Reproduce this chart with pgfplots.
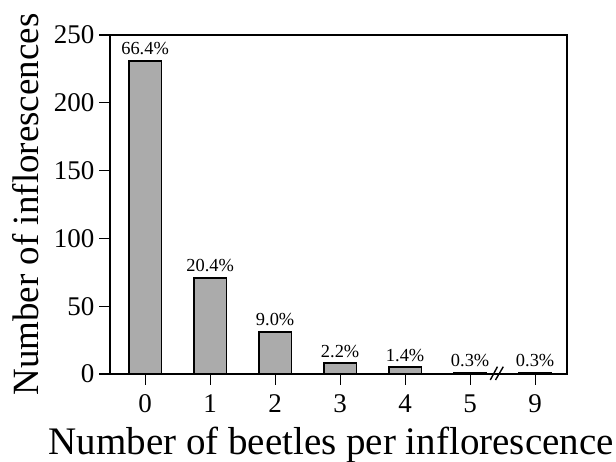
\documentclass[border=0pt]{standalone}
\usepackage{fontspec}
\setmainfont{Liberation Serif}
\usepackage{pgfplots}
\pgfplotsset{compat=1.18}
\usepackage{pgfplotstable}

% beetles per inflorescence: position, count, share
\pgfplotstableread{
pos count share
0 231 66.4\%
1 71 20.4\%
2 31 9.0\%
3 8 2.2\%
4 5 1.4\%
5 1 0.3\%
6 1 0.3\%
}\beetles

\begin{document}
\begin{tikzpicture}
\begin{axis}[
    name=ax,
    scale only axis,
    width=228.5pt, height=169.5pt,
    xmin=-0.54, xmax=6.49,
    ymin=0, ymax=250,
    xtick={0,...,6},
    xticklabels={0,1,2,3,4,5,9},
    ytick={0,50,...,250},
    xtick pos=bottom, ytick pos=left,
    tick align=outside,
    major tick length=5.3pt,
    tick style={black, line width=0.6pt},
    axis line style={line width=0.8pt},
    xticklabel style={font=\fontsize{13.5}{15}\selectfont, yshift=-1.5pt},
    yticklabel style={font=\fontsize{13.5}{15}\selectfont, xshift=1pt},
    /pgf/number format/assume math mode=true,
    xlabel={Number of beetles per inflorescence},
    ylabel={Number of inflorescences},
    xlabel style={font=\fontsize{19.5}{22}\selectfont,
        at={(axis description cs:0.484,-0.209)}, anchor=center},
    ylabel style={font=\fontsize{18.5}{21}\selectfont,
        at={(axis description cs:-0.184,0.5)}, anchor=center, rotate=0},
    clip=false,
]
\addplot[ybar, bar width=0.5, fill=black!33, draw=black, line width=0.8pt,
    nodes near coords, point meta=explicit symbolic,
    every node near coord/.append style={font=\fontsize{9.2}{10}\selectfont, black, inner sep=2.5pt}]
    table[x=pos, y=count, meta=share]{\beetles};
\draw[line width=0.7pt] (axis cs:5.31,-4.4) -- (axis cs:5.42,5.4);
\draw[line width=0.7pt] (axis cs:5.39,-4.4) -- (axis cs:5.51,5.4);
\end{axis}
\pgfresetboundingbox
\path ([shift={(-55pt,-43.5pt)}]ax.south west) rectangle ([shift={(24.5pt,17.5pt)}]ax.north east);
\end{tikzpicture}
\end{document}
